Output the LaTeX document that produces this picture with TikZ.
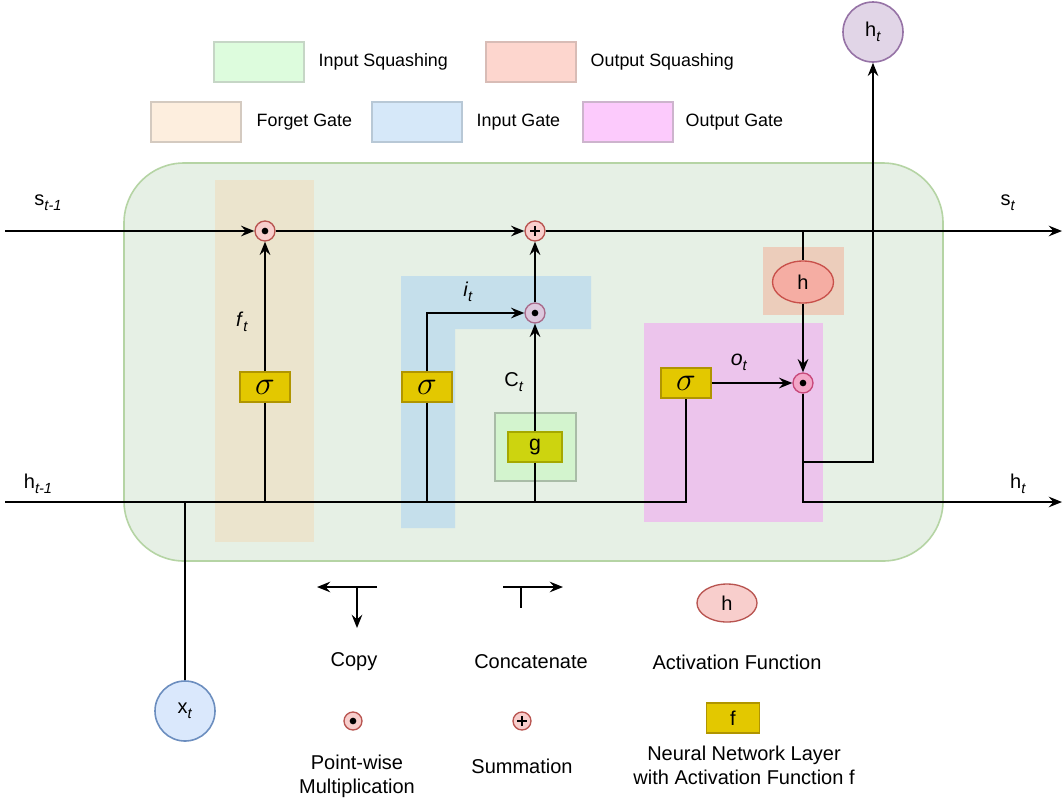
\documentclass[tikz,border=0pt]{standalone}
\usepackage{fontspec}
\setmainfont{Liberation Sans}
\usetikzlibrary{arrows.meta,calc,shapes.geometric}
\definecolor{mainfill}{HTML}{E6F0E5}
\definecolor{maindraw}{HTML}{B5D4A4}
\definecolor{forgetband}{HTML}{EBE4CD}
\definecolor{inputband}{HTML}{C5DFEB}
\definecolor{outband}{HTML}{ECC4EC}
\definecolor{osqband}{HTML}{ECCDBB}
\definecolor{isqfill}{HTML}{D3F4CE}
\definecolor{isqdraw}{HTML}{A9BCA7}
\definecolor{multfill}{HTML}{F8CECC}
\definecolor{multdraw}{HTML}{B85450}
\definecolor{imfill}{HTML}{DCC8DD}
\definecolor{imdraw}{HTML}{A86A8A}
\definecolor{omfill}{HTML}{F3A6C8}
\definecolor{omdraw}{HTML}{C8487A}
\definecolor{hhfill}{HTML}{F5ADA3}
\definecolor{hhdraw}{HTML}{C8504A}
\definecolor{nnfill}{HTML}{E3C800}
\definecolor{nndraw}{HTML}{B09500}
\definecolor{gfill}{HTML}{CDD40F}
\definecolor{gdraw}{HTML}{A5A800}
\definecolor{htfill}{HTML}{E1D5E7}
\definecolor{htdraw}{HTML}{9673A6}
\definecolor{xtfill}{HTML}{DAE8FC}
\definecolor{xtdraw}{HTML}{6C8EBF}
\definecolor{lgisq}{HTML}{DDFCDD}
\definecolor{lgisqd}{HTML}{C6D6C6}
\definecolor{lgosq}{HTML}{FDD6CE}
\definecolor{lgosqd}{HTML}{D8BCB6}
\definecolor{lgfg}{HTML}{FDEEDE}
\definecolor{lgfgd}{HTML}{D4CAC0}
\definecolor{lgig}{HTML}{D6E8F9}
\definecolor{lgigd}{HTML}{B8C8D6}
\definecolor{lgog}{HTML}{FCCAFC}
\definecolor{lgogd}{HTML}{CDB4CD}
\newcommand{\lsub}[1]{\raisebox{-0.45ex}{\fontsize{11}{11}\selectfont\textit{#1}}}
\begin{document}
\begin{tikzpicture}[x=0.75pt,y=-0.75pt,
  font=\fontsize{13.4}{16}\selectfont,
  line width=1.1pt,
  arr/.style={-{Stealth[length=10pt,width=8pt,inset=3.5pt]}},
  legbox/.style={rectangle, minimum width=67.5pt, minimum height=30pt, line width=1.2pt},
  mult/.style={circle, draw=multdraw, fill=multfill, minimum size=15pt, inner sep=0pt, line width=1pt,
    path picture={\fill[black] (path picture bounding box.center) circle (2.5pt);}},
  plusnode/.style={circle, draw=multdraw, fill=multfill, minimum size=15pt, inner sep=0pt, line width=1pt,
    path picture={\draw[black,line width=1.4pt] ($(path picture bounding box.center)+(-3.5pt,0pt)$) -- ++(7pt,0pt)
      ($(path picture bounding box.center)+(0pt,-3.5pt)$) -- ++(0pt,7pt);}},
  nn/.style={rectangle, draw=nndraw, fill=nnfill, minimum width=37.5pt, minimum height=22.5pt, inner sep=0pt, line width=1pt},
  actf/.style={ellipse, draw=multdraw, fill=multfill, minimum width=45pt, minimum height=28.5pt, inner sep=0pt, line width=1pt},
  lab/.style={inner sep=0pt, font=\fontsize{15}{17}\selectfont},
  bl/.style={inner sep=0pt, font=\fontsize{15}{18}\selectfont}
]
\useasboundingbox (0,0) rectangle (1064,801);

% ---------- top legend ----------
\node[legbox, fill=lgisq, draw=lgisqd] (lisq) at (259,62) {};
\node[inner sep=0pt, anchor=west] (tisq) at (318,62) {Input Squashing};
\node[legbox, fill=lgosq, draw=lgosqd] (losq) at (531,62) {};
\node[inner sep=0pt, anchor=west] (tosq) at (590,62) {Output Squashing};
\node[legbox, fill=lgfg, draw=lgfgd] (lfg) at (196,122) {};
\node[inner sep=0pt, anchor=west] (tfg) at (256,122) {Forget Gate};
\node[legbox, fill=lgig, draw=lgigd] (lig) at (417,122) {};
\node[inner sep=0pt, anchor=west] (tig) at (476,122) {Input Gate};
\node[legbox, fill=lgog, draw=lgogd] (log) at (628,122) {};
\node[inner sep=0pt, anchor=west] (tog) at (685,122) {Output Gate};

% ---------- backgrounds ----------
\filldraw[fill=mainfill, draw=maindraw, line width=1.2pt, rounded corners=45pt] (124,163) rectangle (943,561);
\fill[forgetband] (215,180) rectangle (314,542);
\fill[inputband] (401,276) -- (591,276) -- (591,329) -- (455,329) -- (455,528) -- (401,528) -- cycle;
\fill[osqband] (763,247) rectangle (844,315);
\fill[outband] (644,323) rectangle (823,522);
\filldraw[fill=isqfill, draw=isqdraw, line width=1.2pt] (495,413) rectangle (576,481);

% ---------- nodes ----------
\node[mult] (fm) at (265,231) {};
\node[plusnode] (pl) at (535,231) {};
\node[mult, fill=imfill, draw=imdraw] (im) at (535,313) {};
\node[mult, fill=omfill, draw=omdraw] (om) at (803,383) {};
\node[actf, minimum width=45.75pt, minimum height=31.5pt, fill=hhfill, draw=hhdraw, font=\fontsize{15}{15}\selectfont] (hh) at (803,282) {h};
\node[nn] (fs) at (265,387) {\fontsize{23}{23}\selectfont$\sigma$};
\node[nn] (is) at (427,387) {\fontsize{23}{23}\selectfont$\sigma$};
\node[nn] (os) at (686,383) {\fontsize{23}{23}\selectfont$\sigma$};
\node[nn, minimum width=40.5pt, fill=gfill, draw=gdraw, font=\fontsize{16}{16}\selectfont] (g) at (535,447) {g};
\node[circle, draw=htdraw, fill=htfill, minimum size=45pt, inner sep=0pt, line width=1.2pt, font=\fontsize{15}{15}\selectfont] (ht) at (873,32) {h\lsub{t}};
\node[circle, draw=xtdraw, fill=xtfill, minimum size=45pt, inner sep=0pt, line width=1.2pt, font=\fontsize{15}{15}\selectfont] (xt) at (185,711) {x\lsub{t}};

\coordinate (sin) at (5,231);
\coordinate (sout) at (1062,231);
\coordinate (hin) at (5,502);
\coordinate (hout) at (1062,502);
\coordinate (obr) at (803,462);

% ---------- connectors ----------
\draw[arr] (sin) -- (fm);
\draw[arr] (fm) -- (pl);
\draw[arr] (pl) -- (sout);
\draw (hh.north |- pl) -- (hh.north);
\draw (hin) -| (os.south);
\draw (fs.south) -- (fs.south |- hin);
\draw[arr] (fs.north) -- (fm);
\draw (is.south) -- (is.south |- hin);
\draw[arr] (is.north) |- (im);
\draw (g.south) -- (g.south |- hin);
\draw[arr] (g.north) -- (im);
\draw[arr] (im) -- (pl);
\draw[arr] (hh) -- (om);
\draw[arr] (os) -- (om);
\draw[arr] (om) |- (hout);
\draw[arr] (obr) -| (ht);
\draw (xt) -- (xt |- hin);

% ---------- labels ----------
\node[lab] (lsin) at (48,203) {s\lsub{t-1}};
\node[lab] (lsout) at (1008,203) {s\lsub{t}};
\node[lab] (lhin) at (38,484) {h\lsub{t-1}};
\node[lab] (lhout) at (1018,484) {h\lsub{t}};
\node[lab] (lft) at (242,322) {\textit{f}\lsub{t}};
\node[lab] (lit) at (468,292) {\textit{i}\lsub{t}};
\node[lab] (lct) at (514,382) {C\lsub{t}};
\node[lab, font=\fontsize{16}{16}\selectfont] (lot) at (739,362) {\textit{o}\lsub{t}};

% ---------- bottom legend ----------
\coordinate (cpr) at (377,587);
\coordinate (cpl) at (317,587);
\coordinate (cpd) at (357,628);
\draw[arr] (cpr) -- (cpl);
\draw[arr] (cpd |- cpr) -- (cpd);
\node[bl] (tcopy) at (354,662) {Copy};

\coordinate (cal) at (503,587);
\coordinate (car) at (563,587);
\coordinate (cad) at (521,608);
\draw[arr] (cal) -- (car);
\draw (cad |- cal) -- (cad);
\node[bl] (tcat) at (531,662) {Concatenate};

\node[actf, font=\fontsize{15}{15}\selectfont] (lact) at (727,603) {h};
\node[bl] (tact) at (737,662) {Activation Function};

\node[mult, minimum size=13.5pt] (lmult) at (353,721) {};
\node[bl, align=center] (tmult) at (357,776) {Point-wise\\[0pt]Multiplication};
\node[plusnode, minimum size=13.5pt] (lplus) at (522,721) {};
\node[bl] (tplus) at (522,766) {Summation};
\node[nn, minimum width=39.75pt, font=\fontsize{15}{15}\selectfont] (lnn) at (733,718) {f};
\node[bl, align=center] (tnn) at (744,765) {Neural Network Layer\\[0pt]with Activation Function f};
\end{tikzpicture}
\end{document}
